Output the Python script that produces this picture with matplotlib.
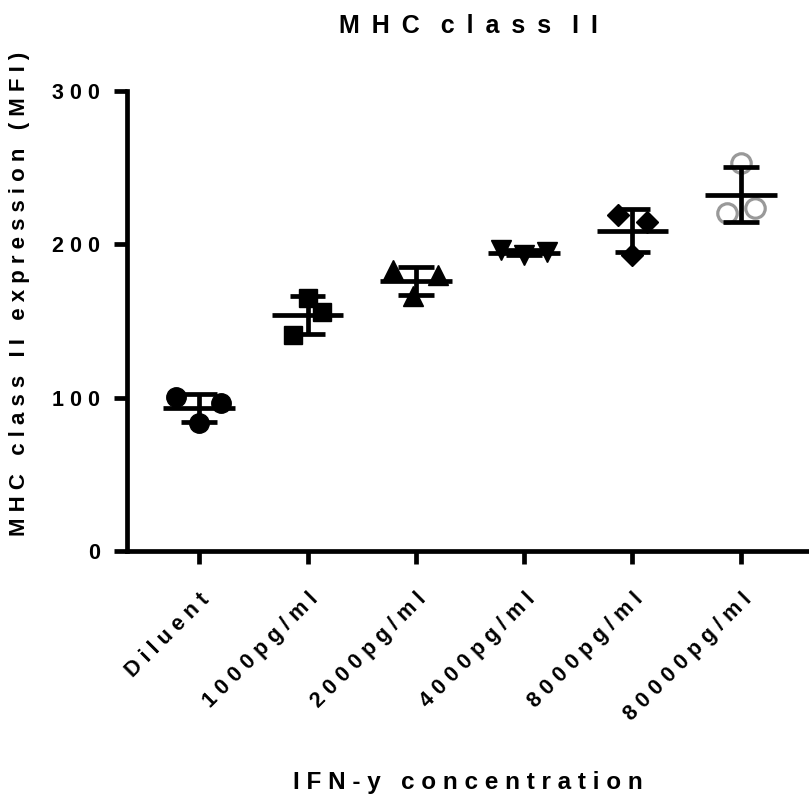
"""
MHC class II expression vs IFN-y concentration (scatter with mean +/- SD)
"""

import matplotlib
import matplotlib.pyplot as plt
import numpy as np

matplotlib.use("Agg")

# groups and individual replicate values (MFI)
groups = ["Diluent", "1000pg/ml", "2000pg/ml", "4000pg/ml", "8000pg/ml", "80000pg/ml"]
diluent = [100.6, 96.3, 83.3]
ifn_1000 = [164.8, 156.1, 140.9]
ifn_2000 = [183.0, 180.0, 166.0]
ifn_4000 = [196.0, 193.0, 195.0]
ifn_8000 = [219.2, 214.4, 193.1]
ifn_80000 = [252.9, 220.3, 223.5]
values = [diluent, ifn_1000, ifn_2000, ifn_4000, ifn_8000, ifn_80000]

# horizontal scatter of the replicates inside each column
jitter = [
    [-0.21, 0.20, 0.0],
    [0.0, 0.13, -0.13],
    [-0.21, 0.20, -0.03],
    [-0.21, 0.0, 0.21],
    [-0.13, 0.13, 0.0],
    [0.0, -0.13, 0.13],
]

# marker style per group
markers = [
    dict(marker="o", color="black", ms=14),
    dict(marker="s", color="black", ms=13.5),
    dict(marker="^", color="black", ms=14),
    dict(marker="v", color="black", ms=14),
    dict(marker="D", color="black", ms=11),
    dict(marker="o", mfc="none", mec="#999999", mew=2.3, ms=14),
]


def spaced(text, gap=" ", word_gap="   "):
    """GraphPad-style letter spacing"""
    return word_gap.join(gap.join(w) for w in text.split(" "))


plt.rcParams["font.family"] = ["Liberation Sans", "DejaVu Sans"]
plt.rcParams["font.weight"] = "bold"

fig = plt.figure(figsize=(8.09, 7.98), dpi=100)
ax = fig.add_axes([127 / 809, 247 / 798, 682 / 809, 460 / 798])

lw = 3.4
for i, (vals, jit, mk) in enumerate(zip(values, jitter, markers)):
    vals = np.array(vals)
    x = i + np.array(jit)
    ax.plot(x, vals, ls="none", zorder=2, clip_on=False, **mk)

    mean = vals.mean()
    sd = vals.std(ddof=1)
    # mean line, SD whiskers and caps
    ax.hlines(mean, i - 0.33, i + 0.33, color="black", lw=lw, zorder=3)
    ax.vlines(i, mean - sd, mean + sd, color="black", lw=lw, zorder=3)
    ax.hlines([mean - sd, mean + sd], i - 0.165, i + 0.165, color="black", lw=lw, zorder=3)

ax.set_xlim(-0.667, 5.63)
ax.set_ylim(0, 300)
ax.set_yticks([0, 100, 200, 300])
ax.set_yticklabels([spaced(str(v)) for v in [0, 100, 200, 300]], fontsize=15.5)
ax.set_xticks(range(len(groups)))
ax.set_xticklabels(
    [spaced(g) for g in groups],
    rotation=45,
    ha="right",
    rotation_mode="anchor",
    fontsize=15.5,
)

for side in ["top", "right"]:
    ax.spines[side].set_visible(False)
for side in ["left", "bottom"]:
    ax.spines[side].set_linewidth(3.4)
ax.tick_params(axis="both", length=9.5, width=3.4, color="black")
ax.tick_params(axis="y", pad=10)
ax.tick_params(axis="x", pad=18)

ax.set_title(spaced("MHC class II", gap=" \u2009"), fontsize=18, fontweight="bold", pad=42)
ax.set_ylabel(spaced("MHC class II expression (MFI)"), fontsize=16, fontweight="bold")
ax.yaxis.set_label_coords(-0.142, 0.56)
ax.set_xlabel(spaced("IFN-y concentration"), fontsize=17.5, fontweight="bold", labelpad=33)

plt.savefig("out.png", dpi=100)
plt.close()
